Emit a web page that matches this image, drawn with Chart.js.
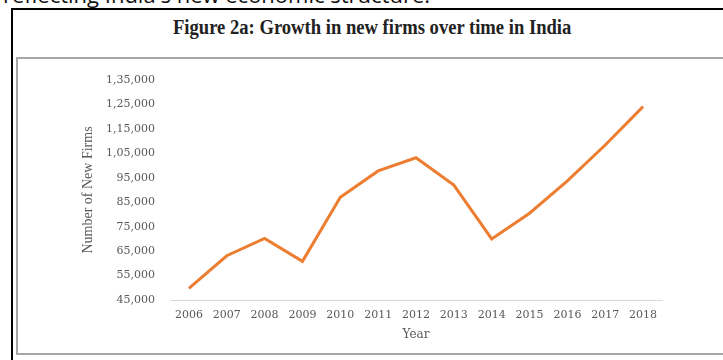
<!DOCTYPE html>
<html>
<head>
<meta charset="utf-8">
<script src="https://cdn.jsdelivr.net/npm/chart.js@4/dist/chart.umd.min.js"></script>
<style>
  html, body { margin: 0; padding: 0; background: #fff; overflow: hidden; }
  body { width: 723px; height: 360px; position: relative; }
  .lead {
    position: absolute; left: 3px; top: -21px;
    font: 22px "Open Sans", sans-serif; color: #111; white-space: nowrap;
  }
  .frame {
    position: absolute; left: 11px; top: 8px; width: 800px; height: 400px;
    border-left: 2px solid #000; border-top: 2px solid #000;
  }
  .title {
    position: absolute; left: 0; width: 745px; top: 16px; text-align: center;
    font: bold 20px "Liberation Serif", serif; color: #222; white-space: nowrap;
  }
  .title span { display: inline-block; transform: scaleX(0.93); }
  .plotbox {
    position: absolute; left: 16px; top: 57px; width: 800px; height: 294px;
    border: 2px solid #a6a6a6;
  }
  #chartWrap { position: absolute; left: 0; top: 0; width: 723px; height: 360px; }
</style>
</head>
<body>
<div class="lead">reflecting India's new economic structure.</div>
<div class="frame"></div>
<div class="title"><span>Figure 2a: Growth in new firms over time in India</span></div>
<div class="plotbox"></div>
<div id="chartWrap"><canvas id="firmsChart"></canvas></div>

<script>
// New firms registered per year
const years = ["2006", "2007", "2008", "2009", "2010", "2011", "2012",
               "2013", "2014", "2015", "2016", "2017", "2018"];
const newFirms = [49800, 63100, 70200, 60800, 87000, 97800, 103200,
                  92000, 70000, 80500, 93700, 108400, 124100];
const yMin = 45000;
const yMax = 135000;
const yStep = 10000;

// Indian digit grouping: 1,35,000
function indianFormat(n) {
    const s = String(Math.round(n));
    if (s.length <= 3) return s;
    const last3 = s.slice(-3);
    const rest = s.slice(0, -3).replace(/\B(?=(\d{2})+(?!\d))/g, ",");
    return rest + "," + last3;
}

const textGrey = "#595959";
const axisFont = { family: "DejaVu Serif", size: 11 };

const ctx = document.getElementById("firmsChart").getContext("2d");

new Chart(ctx, {
    type: "line",
    data: {
        labels: years,
        datasets: [{
            label: "Number of New Firms",
            data: newFirms,
            borderColor: "#ED7D31",
            borderWidth: 3,
            pointRadius: 0,
            tension: 0,
            fill: false,
        }]
    },
    options: {
        responsive: true,
        maintainAspectRatio: false,
        animation: false,
        layout: { padding: { left: 80, right: 61, top: 80, bottom: 0 } },
        plugins: {
            legend: { display: false },
            tooltip: { enabled: false },
        },
        scales: {
            x: {
                offset: true,
                grid: { display: false, drawTicks: false },
                border: { display: true, color: "#d9d9d9", width: 1 },
                ticks: { color: textGrey, font: axisFont, padding: 9, maxRotation: 0 },
                title: {
                    display: true,
                    text: "Year",
                    color: textGrey,
                    font: { family: "DejaVu Serif", size: 12 },
                    padding: { top: 0, bottom: 18 },
                },
                afterFit: scale => { scale.height = 60; },
            },
            y: {
                min: yMin,
                max: yMax,
                grid: { display: false, drawTicks: false },
                border: { display: false },
                ticks: {
                    stepSize: yStep,
                    color: textGrey,
                    font: axisFont,
                    padding: 15,
                    callback: v => indianFormat(v),
                },
                title: {
                    display: true,
                    text: "Number of New Firms",
                    color: textGrey,
                    font: { family: "Liberation Serif", size: 14 },
                    padding: { top: 0, bottom: 0 },
                },
                afterFit: scale => { scale.width = 90; },
            }
        }
    }
});
</script>
</body>
</html>
